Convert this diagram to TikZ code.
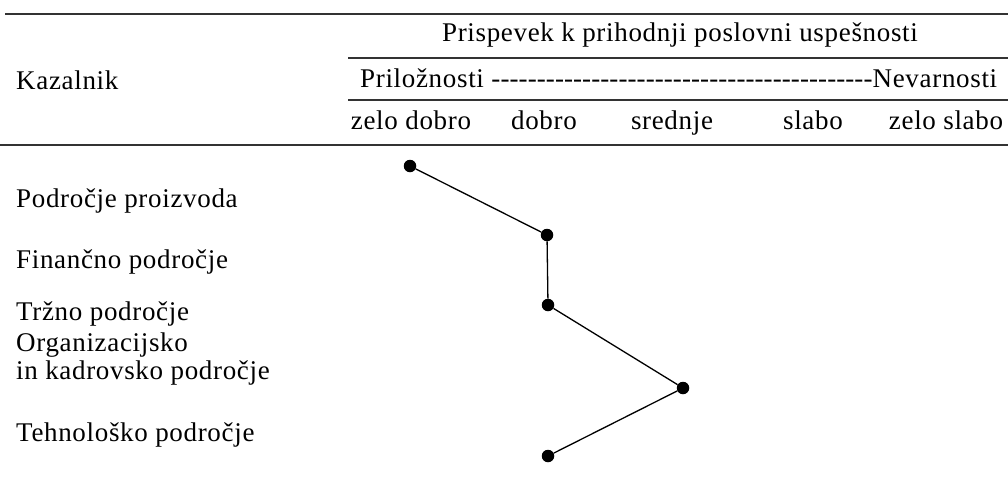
\documentclass[tikz,border=0pt]{standalone}
\usepackage{fontspec}
\setmainfont[LetterSpace=2.5]{Liberation Serif}
\begin{document}
\begin{tikzpicture}[x=1pt,y=-1pt,
  lbl/.style={anchor=base west,inner sep=0pt,font=\fontsize{27}{30}\selectfont},
  hdr/.style={anchor=base,inner sep=0pt,font=\fontsize{27}{30}\selectfont},
  rule/.style={line width=1.4pt,black!80},
  pt/.style={circle,fill=black,inner sep=0pt,minimum size=12.5pt},
  conn/.style={line width=1.3pt}]
\useasboundingbox (0,0) rectangle (1008,491);
% rules
\draw[rule] (5,14) -- (1008,14);
\draw[rule] (348,58) -- (1008,58);
\draw[rule] (348,100) -- (1008,100);
\draw[rule] (0,145) -- (1008,145);
% header
\node[hdr] (title) at (680,41) {Prispevek k prihodnji poslovni uspešnosti};
\node[lbl] (kaz) at (16,89) {Kazalnik};
\node[lbl] (scale) at (360,87) {\hbox to 637pt{Priložnosti\ \xleaders\hbox{-}\hfill Nevarnosti}};
\node[hdr] (c1) at (411,129) {zelo dobro};
\node[hdr] (c2) at (544,129) {dobro};
\node[hdr] (c3) at (672,129) {srednje};
\node[hdr] (c4) at (813,129) {slabo};
\node[hdr] (c5) at (946,129) {zelo slabo};
% row labels
\node[lbl] (r1) at (16,207) {Področje proizvoda};
\node[lbl] (r2) at (16,268) {Finančno področje};
\node[lbl] (r3) at (16,320) {Tržno področje};
\node[lbl] (r4a) at (16,351) {Organizacijsko};
\node[lbl] (r4b) at (16,379) {in kadrovsko področje};
\node[lbl] (r5) at (16,441) {Tehnološko področje};
% profile
\node[pt] (p1) at (410,166) {};
\node[pt] (p2) at (547,235) {};
\node[pt] (p3) at (548,305) {};
\node[pt] (p4) at (683,388) {};
\node[pt] (p5) at (548,456) {};
\draw[conn] (p1) -- (p2);
\draw[conn] (p2) -- (p3);
\draw[conn] (p3) -- (p4);
\draw[conn] (p4) -- (p5);
\end{tikzpicture}
\end{document}
